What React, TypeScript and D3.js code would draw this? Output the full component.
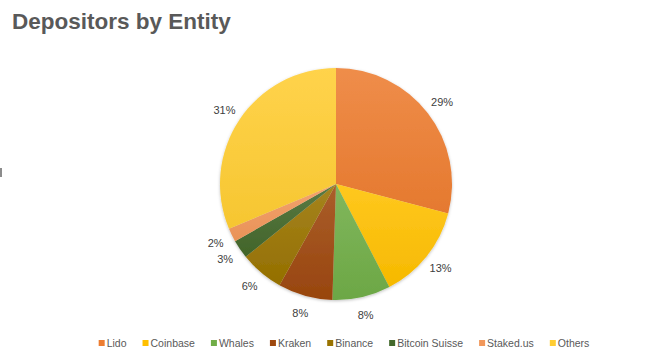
import React, { useEffect, useRef } from "react";
import * as d3 from "d3";

const categories = ["Lido", "Coinbase", "Whales", "Kraken", "Binance", "Bitcoin Suisse", "Staked.us", "Others"];
const values = [29.1, 13.3, 8.1, 7.6, 6.1, 2.6, 1.9, 31.3];
const colors = ["#ED7D31", "#FFC000", "#70AD47", "#9E480E", "#997300", "#43682B", "#F1975A", "#FFCD33"];
const title = "Depositors by Entity";

export default function App() {
  const ref = useRef<SVGSVGElement>(null);
  useEffect(() => {
    const svg = d3.select(ref.current);
    svg.selectAll("*").remove();
    const W = 672, H = 354;
    svg.append("rect").attr("width", W).attr("height", H).attr("fill", "#fff");
    const defs = svg.append("defs");
    const filt = defs.append("filter").attr("id", "sh").attr("x", "-10%").attr("y", "-10%").attr("width", "120%").attr("height", "120%");
    filt.append("feDropShadow").attr("dx", 0).attr("dy", 1).attr("stdDeviation", 1.5).attr("flood-color", "#000").attr("flood-opacity", 0.25);

    colors.forEach((c, i) => {
      const g = defs.append("linearGradient").attr("id", "g" + i).attr("x1", 0).attr("y1", 0).attr("x2", 0).attr("y2", 1);
      g.append("stop").attr("offset", "0%").attr("stop-color", d3.interpolateRgb(c, "#fff")(0.12));
      g.append("stop").attr("offset", "100%").attr("stop-color", d3.color(c)!.darker(0.1).formatHex());
    });

    svg.append("text").attr("x", 12).attr("y", 29).text(title)
      .attr("font-family", "Liberation Sans, Arial, sans-serif").attr("font-weight", "bold")
      .attr("font-size", 22.5).attr("fill", "#595959");

    svg.append("rect").attr("x", 0).attr("y", 168).attr("width", 2).attr("height", 9).attr("fill", "#8c8c8c");

    const cx = 336, cy = 184, R = 116;
    const pie = d3.pie<number>().sort(null).value(d => d);
    const arcs = pie(values);
    const arc = d3.arc<d3.PieArcDatum<number>>().innerRadius(0).outerRadius(R);
    const gp = svg.append("g").attr("transform", `translate(${cx},${cy})`);
    const sg = gp.append("g").attr("filter", "url(#sh)");
    sg.selectAll("path").data(arcs).enter().append("path")
      .attr("d", arc as any)
      .attr("fill", (_d, i) => `url(#g${i})`);

    const total = d3.sum(values);
    const labArc = d3.arc<d3.PieArcDatum<number>>().innerRadius(134).outerRadius(134);
    gp.selectAll("text.l").data(arcs).enter().append("text")
      .attr("class", "l")
      .attr("transform", d => { const [x, y] = labArc.centroid(d); return `translate(${x},${y})`; })
      .attr("text-anchor", "middle").attr("dy", "0.35em")
      .attr("font-family", "Liberation Sans, Arial, sans-serif").attr("font-size", 11).attr("fill", "#404040")
      .text(d => `${Math.round((d.value / total) * 100)}%`);

    // legend
    const lg = svg.append("g");
    const items = lg.selectAll("g").data(categories).enter().append("g");
    items.append("rect").attr("width", 6).attr("height", 6).attr("y", -7).attr("fill", (_d, i) => colors[i]);
    items.append("text").attr("x", 8).attr("y", 0)
      .attr("font-family", "Liberation Sans, Arial, sans-serif").attr("font-size", 10.5).attr("fill", "#595959")
      .text(d => d);
    const widths: number[] = [];
    items.each(function () {
      const t = d3.select(this).select("text").node() as SVGTextElement;
      widths.push(8 + t.getComputedTextLength());
    });
    const gap = 16;
    const totalW = d3.sum(widths) + gap * (widths.length - 1);
    let x = (W - totalW) / 2 + 8;
    items.each(function (_d, i) {
      d3.select(this).attr("transform", `translate(${x},347)`);
      x += widths[i] + gap;
    });
  }, []);
  return <svg ref={ref} width={672} height={354} style={{ display: "block", position: "absolute", left: 0, top: 0 }} />;
}
